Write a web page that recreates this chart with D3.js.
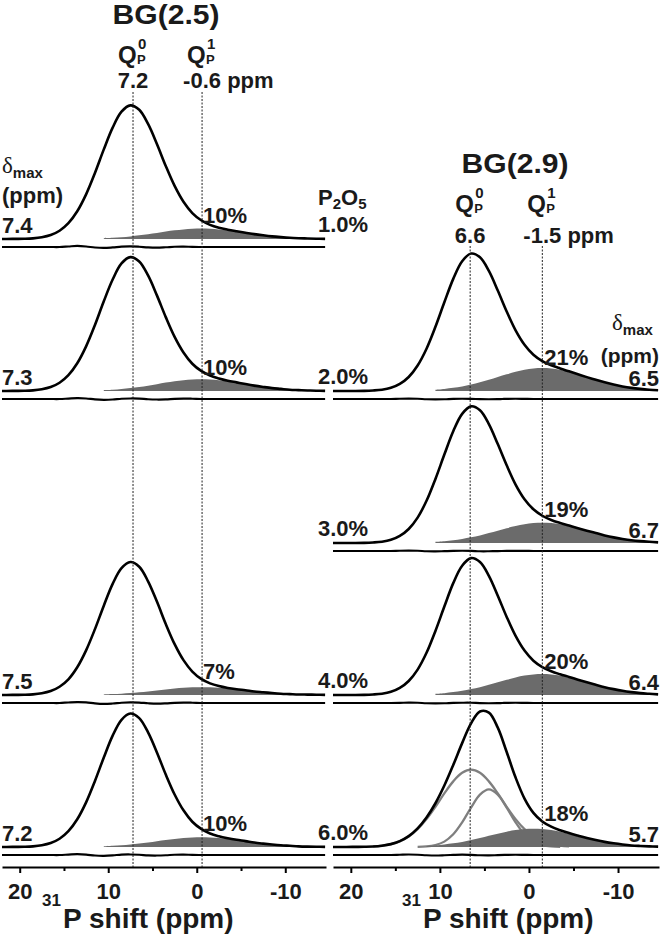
<!DOCTYPE html>
<html><head><meta charset="utf-8">
<script src="https://cdn.jsdelivr.net/npm/d3@7"></script>
<style>
body{margin:0;background:#fff}
text{font-family:"Liberation Sans",Arial,sans-serif;font-weight:bold;fill:#1a1a1a}
</style></head>
<body><svg id="c" width="661" height="937"></svg>
<script>
// ---------- data ----------
const ppm = [22.5,21.5,20.5,19.5,18.5,17.5,16.5,15.5,14.5,13.5,12.5,11.5,10.5,9.5,8.5,7.5,6.5,5.5,4.5,3.5,2.5,1.5,0.5,-0.5,-1.5,-2.5,-3.5,-4.5,-5.5,-6.5,-7.5,-8.5,-9.5,-10.5,-11.5,-12.5,-13.5,-14.5];
const p2o5 = ["1.0%","2.0%","3.0%","4.0%","6.0%"];
const xTicks = [20,10,0,-10];
const xMinorTicks = [15,5,-5];

// BG(2.5)
const bg25Title = "BG(2.5)";
const bg25Content = ["1.0%","2.0%","4.0%","6.0%"];
const bg25Dmax = ["7.4","7.3","7.5","7.2"];
const bg25Q1pct = ["10%","10%","7%","10%"];
const bg25Shifts = [7.2,-0.6];
const bg25Total1 = [0,0,.001,.002,.005,.013,.030,.063,.121,.212,.341,.504,.684,.850,.972,1.020,.986,.878,.725,.557,.405,.284,.198,.143,.108,.086,.071,.059,.048,.037,.028,.020,.014,.009,.006,.004,.002,.001];
const bg25Q1_1 = [null,null,null,null,null,null,null,null,null,null,null,null,.006,.009,.014,.020,.028,.037,.046,.057,.066,.073,.078,.080,.078,.073,.066,.057,.046,.037,.028,.020,.014,.009,.006,.004,.002,.001];
const bg25Total2 = [0,0,.001,.002,.005,.013,.030,.063,.121,.212,.341,.504,.685,.851,.974,1.022,.989,.882,.730,.564,.413,.294,.208,.153,.118,.096,.079,.066,.053,.041,.031,.022,.016,.010,.007,.004,.002,.001];
const bg25Q1_2 = [null,null,null,null,null,null,null,null,null,null,null,null,.007,.010,.016,.022,.031,.041,.052,.064,.074,.083,.088,.090,.088,.083,.074,.064,.052,.041,.031,.022,.016,.010,.007,.004,.002,.001];
const bg25Total4 = [0,0,.001,.002,.005,.013,.030,.063,.120,.212,.341,.503,.682,.848,.968,1.015,.979,.868,.713,.542,.388,.266,.179,.123,.089,.068,.054,.044,.036,.027,.021,.015,.010,.007,.004,.003,.002,.001];
const bg25Q1_4 = [null,null,null,null,null,null,null,null,null,null,null,null,.004,.007,.010,.015,.021,.027,.035,.042,.049,.055,.059,.060,.059,.055,.049,.042,.035,.027,.021,.015,.010,.007,.004,.003,.002,.001];
const bg25Total6 = [0,0,.001,.002,.005,.013,.030,.063,.121,.212,.341,.504,.683,.850,.971,1.019,.984,.875,.722,.553,.401,.280,.193,.138,.103,.082,.067,.055,.045,.034,.026,.019,.013,.009,.005,.003,.002,.001];
const bg25Q1_6 = [null,null,null,null,null,null,null,null,null,null,null,null,.005,.009,.013,.019,.026,.034,.044,.053,.062,.069,.073,.075,.073,.069,.062,.053,.044,.034,.026,.019,.013,.009,.005,.003,.002,.001];
const bg25Res1 = [0,0,0,0,0,0,0,0,.004,.008,.004,-.004,-.007,-.003,.003,.005,.002,-.003,-.005,-.002,.002,.003,.001,0,0,0,0,0,0,0,0,0,0,0,0,0,0,0];
const bg25Res2 = [0,0,0,0,0,0,0,0,.003,.006,.004,-.003,-.006,-.004,.002,.004,.003,-.002,-.004,-.003,.001,.003,.002,0,0,0,0,0,0,0,0,0,0,0,0,0,0,0];
const bg25Res4 = [0,0,0,0,0,0,0,0,.004,.007,.005,-.003,-.007,-.004,.002,.005,.003,-.002,-.005,-.003,.001,.003,.002,0,0,0,0,0,0,0,0,0,0,0,0,0,0,0];
const bg25Res6 = [0,0,0,0,0,0,0,0,.003,.006,.003,-.004,-.006,-.003,.003,.004,.002,-.003,-.004,-.002,.002,.003,.001,0,0,0,0,0,0,0,0,0,0,0,0,0,0,0];

// BG(2.9)
const bg29Title = "BG(2.9)";
const bg29Content = ["2.0%","3.0%","4.0%","6.0%"];
const bg29Dmax = ["6.5","6.7","6.4","5.7"];
const bg29Q1pct = ["21%","19%","20%","18%"];
const bg29Shifts = [6.6,-1.5];
const bg29Total2 = [0,0,0,0,.001,.004,.010,.024,.054,.107,.195,.323,.490,.677,.856,.990,1.049,1.021,.917,.767,.607,.463,.353,.277,.228,.196,.172,.150,.128,.106,.085,.066,.049,.035,.024,.016,.010,.006];
const bg29Q1_2 = [null,null,null,null,null,null,null,null,null,null,null,null,.010,.016,.024,.035,.049,.066,.085,.106,.127,.146,.162,.172,.175,.172,.162,.146,.127,.106,.085,.066,.049,.035,.024,.016,.010,.006];
const bg29Total3 = [0,0,0,0,.001,.004,.010,.024,.054,.107,.194,.322,.489,.675,.853,.986,1.043,1.013,.908,.755,.593,.446,.334,.257,.208,.176,.153,.133,.113,.094,.076,.058,.043,.031,.021,.014,.009,.005];
const bg29Q1_3 = [null,null,null,null,null,null,null,null,null,null,null,null,.009,.014,.021,.031,.043,.058,.076,.094,.113,.129,.143,.152,.155,.152,.143,.129,.113,.094,.076,.058,.043,.031,.021,.014,.009,.005];
const bg29Total4 = [0,0,0,0,.001,.004,.010,.024,.054,.107,.194,.322,.489,.675,.854,.987,1.045,1.015,.910,.758,.596,.451,.339,.262,.213,.181,.158,.138,.117,.097,.078,.060,.045,.032,.022,.014,.009,.005];
const bg29Q1_4 = [null,null,null,null,null,null,null,null,null,null,null,null,.009,.014,.022,.032,.045,.060,.078,.097,.116,.134,.148,.157,.160,.157,.148,.134,.116,.097,.078,.060,.045,.032,.022,.014,.009,.005];
const bg29Total6 = [0,0,0,.001,.002,.004,.010,.022,.045,.083,.142,.225,.334,.469,.626,.793,.944,1.034,1.026,.911,.725,.530,.370,.261,.195,.155,.128,.106,.087,.069,.053,.039,.028,.019,.012,.008,.005,.003];
const bg29Q1_6 = [null,null,null,null,null,null,null,null,null,null,null,.008,.012,.019,.028,.039,.053,.068,.085,.102,.117,.129,.137,.140,.137,.129,.117,.102,.085,.068,.053,.039,.028,.019,.012,.008,.005,.003];
const bg29Q0a_6 = [null,null,null,null,null,.004,.010,.022,.043,.080,.136,.213,.307,.409,.501,.566,.590,.566,.501,.409,.307,.213,.136,.080,.043,.022,.010,.004,null,null,null,null,null,null,null,null,null,null];
const bg29Q0b_6 = [null,null,null,null,null,null,null,null,null,null,.001,.004,.015,.041,.097,.188,.301,.400,.440,.400,.301,.188,.097,.041,.015,.004,.001,null,null,null,null,null,null,null,null,null,null,null];
const bg29Res2 = [0,0,0,0,0,0,0,0,.002,.003,.002,-.002,-.003,-.002,.001,.002,.001,-.001,-.002,-.001,.001,.002,.001,0,0,0,0,0,0,0,0,0,0,0,0,0,0,0];
const bg29Res3 = [0,0,0,0,0,0,0,0,.002,.003,.002,-.002,-.003,-.001,.001,.002,.001,-.002,-.002,-.001,.001,.001,.001,0,0,0,0,0,0,0,0,0,0,0,0,0,0,0];
const bg29Res4 = [0,0,0,0,0,0,0,0,.001,.003,.002,-.002,-.003,-.002,.001,.002,.002,-.001,-.002,-.001,.001,.002,.001,0,0,0,0,0,0,0,0,0,0,0,0,0,0,0];
const bg29Res6 = [0,0,0,0,0,0,0,0,.002,.004,.002,-.002,-.004,-.002,.001,.003,.001,-.002,-.003,-.001,.001,.002,.001,0,0,0,0,0,0,0,0,0,0,0,0,0,0,0];

// ---------- layout ----------
const W = 661, Hh = 937;
const H = 131, RES_OFF = 8, AXIS_Y = 867;
const svg = d3.select("#c");
svg.append("rect").attr("width", W).attr("height", Hh).attr("fill", "#fff");
const yRow = d3.scalePoint().domain(p2o5).range([239, 847]);

const panels = [
  {title: bg25Title, range: [2, 326], content: bg25Content, dmax: bg25Dmax, pct: bg25Q1pct, shifts: bg25Shifts,
   total: [bg25Total1, bg25Total2, bg25Total4, bg25Total6], q1: [bg25Q1_1, bg25Q1_2, bg25Q1_4, bg25Q1_6],
   res: [bg25Res1, bg25Res2, bg25Res4, bg25Res6], comps: [[], [], [], []],
   titleX: 166, titleY: 24, qY: 63, numY: 88, lineTop: 92, dmaxSide: "left", pctDy: -16, pctDx: 1, axTitleX: 42},
  {title: bg29Title, range: [333, 659], content: bg29Content, dmax: bg29Dmax, pct: bg29Q1pct, shifts: bg29Shifts,
   total: [bg29Total2, bg29Total3, bg29Total4, bg29Total6], q1: [bg29Q1_2, bg29Q1_3, bg29Q1_4, bg29Q1_6],
   res: [bg29Res2, bg29Res3, bg29Res4, bg29Res6], comps: [[], [], [], [bg29Q0a_6, bg29Q0b_6]],
   titleX: 515, titleY: 173, qY: 212, numY: 243, lineTop: 246, dmaxSide: "right", pctDy: -26, pctDx: 2, axTitleX: 402}
];

panels.forEach((p, pi) => {
  const x = d3.scaleLinear().domain([22, -14.6]).range(p.range);
  const clipId = "clip" + pi;
  svg.append("clipPath").attr("id", clipId).append("rect")
    .attr("x", p.range[0]).attr("y", 0).attr("width", p.range[1] - p.range[0]).attr("height", Hh);
  const g = svg.append("g").attr("clip-path", `url(#${clipId})`);
  const pts = arr => ppm.map((v, i) => ({ppm: v, v: arr[i]}));

  p.content.forEach((c, j) => {
    const base = yRow(c);
    const y = d3.scaleLinear().domain([0, 1]).range([base, base - H]);
    const yr = d3.scaleLinear().domain([0, 1]).range([base + RES_OFF, base + RES_OFF - H]);
    const line = d3.line().defined(d => d.v != null).x(d => x(d.ppm)).y(d => y(d.v)).curve(d3.curveCatmullRom);
    p.comps[j].forEach(comp => {
      g.append("path").datum(pts(comp)).attr("d", line)
        .attr("fill", "none").attr("stroke", "#7f7f7f").attr("stroke-width", 2.3);
    });
    g.append("path").datum(pts(p.q1[j]))
      .attr("d", d3.area().defined(d => d.v != null).x(d => x(d.ppm)).y0(base).y1(d => y(d.v)).curve(d3.curveCatmullRom))
      .attr("fill", "#6b6b6b");
    g.append("path").datum(pts(p.total[j])).attr("d", line)
      .attr("fill", "none").attr("stroke", "#000").attr("stroke-width", 2.6);
    g.append("path").datum(pts(p.res[j]))
      .attr("d", d3.line().x(d => x(d.ppm)).y(d => yr(d.v)).curve(d3.curveCatmullRom))
      .attr("fill", "none").attr("stroke", "#000").attr("stroke-width", 2.2);

    if (p.dmaxSide === "left") {
      svg.append("text").attr("x", 2).attr("y", base - 6).attr("font-size", 22).text(p.dmax[j]);
    } else {
      svg.append("text").attr("x", 659).attr("y", base - 5).attr("text-anchor", "end").attr("font-size", 22).text(p.dmax[j]);
    }
    svg.append("text").attr("x", x(p.shifts[1]) + p.pctDx).attr("y", base + p.pctDy).attr("font-size", 22).text(p.pct[j]);
  });

  // axes
  const ax = svg.append("g").attr("transform", `translate(0,${AXIS_Y})`)
    .call(d3.axisBottom(x).tickValues(xTicks).tickSize(6).tickSizeOuter(0).tickPadding(10).tickFormat(d => String(d)));
  ax.select(".domain").attr("stroke", "#000").attr("stroke-width", 2);
  ax.selectAll(".tick line").attr("stroke", "#000").attr("stroke-width", 2);
  ax.selectAll(".tick text").attr("font-size", 22).attr("font-family", null).attr("fill", "#1a1a1a");
  const axm = svg.append("g").attr("transform", `translate(0,${AXIS_Y})`)
    .call(d3.axisBottom(x).tickValues(xMinorTicks).tickSize(4).tickSizeOuter(0).tickFormat(""));
  axm.select(".domain").remove();
  axm.selectAll(".tick line").attr("stroke", "#000").attr("stroke-width", 2);

  // axis title
  svg.append("text").attr("x", p.axTitleX).attr("y", 906).attr("font-size", 17).text("31");
  svg.append("text").attr("x", p.axTitleX + 21).attr("y", 928).attr("font-size", 28).text("P shift (ppm)");

  // reference dashed lines
  p.shifts.forEach(s => {
    svg.append("line").attr("x1", x(s)).attr("x2", x(s)).attr("y1", p.lineTop).attr("y2", AXIS_Y)
      .attr("stroke", "#222").attr("stroke-width", 1).attr("stroke-dasharray", "2,1.5");
  });

  // titles
  svg.append("text").attr("x", p.titleX).attr("y", p.titleY).attr("text-anchor", "middle")
    .attr("font-size", 27).attr("textLength", 107).attr("lengthAdjust", "spacingAndGlyphs").text(p.title);
  const sups = ["0", "1"];
  p.shifts.forEach((s, k) => {
    const cx = x(s);
    svg.append("text").attr("x", cx - 15).attr("y", p.qY).attr("font-size", 24).text("Q");
    svg.append("text").attr("x", cx + 5).attr("y", p.qY - 14).attr("font-size", 15).text(sups[k]);
    svg.append("text").attr("x", cx + 4).attr("y", p.qY + 1).attr("font-size", 13).text("P");
    const num = String(s);
    const t = svg.append("text").attr("x", cx).attr("y", p.numY).attr("text-anchor", "middle").attr("font-size", 22).text(num);
    if (k === 1) {
      const wNum = t.node().getComputedTextLength();
      svg.append("text").attr("x", cx + wNum / 2).attr("y", p.numY).attr("font-size", 22).text("\u00a0ppm");
    }
  });
});

// delta max headers
function deltaMax(xd, yd) {
  const t = svg.append("text").attr("x", xd).attr("y", yd);
  t.append("tspan").attr("font-family", "'Liberation Serif','DejaVu Serif',serif").attr("font-weight", "normal").attr("font-size", 23).text("\u03b4");
  t.append("tspan").attr("font-size", 15).attr("dy", 5).text("max");
  return t;
}
deltaMax(2, 173);
svg.append("text").attr("x", 2).attr("y", 203).attr("font-size", 22).text("(ppm)");
deltaMax(612, 330);
svg.append("text").attr("x", 659).attr("y", 363).attr("text-anchor", "end").attr("font-size", 21).text("(ppm)");

// P2O5 header and content labels
const ph = svg.append("text").attr("x", 318).attr("y", 205).attr("font-size", 22);
ph.append("tspan").text("P");
ph.append("tspan").attr("font-size", 15).attr("dy", 4).text("2");
ph.append("tspan").attr("dy", -4).text("O");
ph.append("tspan").attr("font-size", 15).attr("dy", 4).text("5");
p2o5.forEach(c => {
  svg.append("text").attr("x", 318).attr("y", yRow(c) - 7).attr("font-size", 22).text(c);
});
</script></body></html>
